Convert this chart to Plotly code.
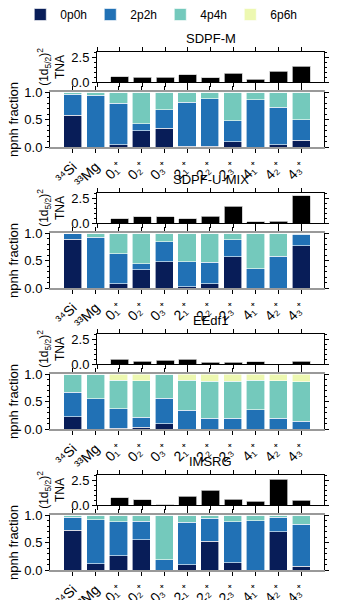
import plotly.graph_objects as go

# x categories (states)
labels = ["³⁴Si", "³³Mg", "0₁⁺", "0₂⁺", "0₃⁺", "2₁⁺", "2₂⁺", "2₃⁺", "4₁⁺", "4₂⁺", "4₃⁺"]
models = ["SDPF-M", "SDPF-U-MIX", "EEdf1", "IMSRG"]
components = ["0p0h", "2p2h", "4p4h", "6p6h"]
colors = ["#081d58", "#2171b5", "#74c9bc", "#edf8b1"]

# (1d5/2)^2 TNA
tna_sdpfm = [None, None, 0.53, 0.47, 0.47, 0.73, 0.43, 0.90, 0.30, 1.07, 1.58]
tna_sdpfu = [None, None, 0.42, 0.63, 0.63, 0.45, 0.69, 1.67, 0.14, 0.20, 2.75]
tna_eedf1 = [None, None, 0.50, 0.30, 0.37, 0.47, 0.20, 0.20, 0.23, 0.00, 0.30]
tna_imsrg = [None, None, 0.73, 0.53, 0.03, 0.87, 1.47, 0.60, 0.37, 2.57, 0.47]

# npnh fractions
sdpfm_0p0h = [0.58, 0.00, 0.04, 0.30, 0.34, 0.01, 0.01, 0.10, 0.00, 0.04, 0.12]
sdpfm_2p2h = [0.38, 0.94, 0.76, 0.12, 0.34, 0.80, 0.87, 0.38, 0.86, 0.68, 0.38]
sdpfm_4p4h = [0.04, 0.06, 0.20, 0.58, 0.32, 0.19, 0.12, 0.52, 0.14, 0.28, 0.50]
sdpfm_6p6h = [0.00] * 11

sdpfu_0p0h = [0.89, 0.00, 0.08, 0.33, 0.48, 0.02, 0.08, 0.57, 0.00, 0.00, 0.77]
sdpfu_2p2h = [0.11, 0.92, 0.54, 0.11, 0.36, 0.46, 0.39, 0.31, 0.35, 0.58, 0.21]
sdpfu_4p4h = [0.00, 0.08, 0.38, 0.56, 0.16, 0.52, 0.53, 0.12, 0.65, 0.42, 0.02]
sdpfu_6p6h = [0.00] * 11

eedf1_0p0h = [0.22, 0.00, 0.01, 0.03, 0.10, 0.00, 0.00, 0.00, 0.00, 0.00, 0.00]
eedf1_2p2h = [0.45, 0.55, 0.36, 0.18, 0.46, 0.34, 0.20, 0.20, 0.35, 0.20, 0.14]
eedf1_4p4h = [0.33, 0.45, 0.52, 0.67, 0.44, 0.55, 0.67, 0.67, 0.54, 0.68, 0.72]
eedf1_6p6h = [0.00, 0.00, 0.11, 0.12, 0.00, 0.11, 0.13, 0.13, 0.11, 0.12, 0.14]

imsrg_0p0h = [0.72, 0.11, 0.26, 0.55, 0.00, 0.10, 0.52, 0.13, 0.00, 0.70, 0.07]
imsrg_2p2h = [0.24, 0.80, 0.62, 0.34, 0.19, 0.77, 0.42, 0.75, 0.90, 0.26, 0.76]
imsrg_4p4h = [0.04, 0.09, 0.12, 0.11, 0.81, 0.13, 0.06, 0.12, 0.10, 0.04, 0.17]
imsrg_6p6h = [0.00] * 11

tna = [tna_sdpfm, tna_sdpfu, tna_eedf1, tna_imsrg]
fractions = [
    [sdpfm_0p0h, sdpfm_2p2h, sdpfm_4p4h, sdpfm_6p6h],
    [sdpfu_0p0h, sdpfu_2p2h, sdpfu_4p4h, sdpfu_6p6h],
    [eedf1_0p0h, eedf1_2p2h, eedf1_4p4h, eedf1_6p6h],
    [imsrg_0p0h, imsrg_2p2h, imsrg_4p4h, imsrg_6p6h],
]

W, H = 338, 600
FONT = "Liberation Sans"


def xd(a, b):
    return [a / W, b / W]


def yd(top, bottom):
    return [1 - bottom / H, 1 - top / H]


fig = go.Figure()
layout = {}
annotations = []

for k, model in enumerate(models):
    off = 141 * k
    na, nb = 2 * k + 1, 2 * k + 2
    xa, ya = f"x{na}", f"y{na}"
    xb, yb = f"x{nb}", f"y{nb}"

    fig.add_trace(go.Bar(x=labels, y=tna[k], xaxis=xa, yaxis=ya, width=0.8,
                         marker=dict(color="black", line=dict(color="#cccccc", width=0.8)),
                         showlegend=False))
    for comp, col, vals in zip(components, colors, fractions[k]):
        fig.add_trace(go.Bar(x=labels, y=vals, xaxis=xb, yaxis=yb, width=0.8, name=comp,
                             marker=dict(color=col, line=dict(color="white", width=0.6)),
                             showlegend=(k == 0)))

    common_x = dict(type="category", categoryorder="array", categoryarray=labels,
                    ticks="outside", ticklen=4, tickcolor="black", showgrid=False,
                    zeroline=False, automargin=False)
    layout[f"xaxis{na}"] = dict(common_x, domain=xd(97, 324), anchor=ya, range=[1, 11],
                                showticklabels=False, showline=True, linecolor="black",
                                linewidth=1, mirror="ticks")
    layout[f"yaxis{na}"] = dict(domain=yd(52 + off, 82 + off), anchor=xa, range=[0, 3],
                                tickvals=[0, 2.5], tickformat=".1f", ticks="outside",
                                ticklen=4, tickcolor="black", showline=True,
                                linecolor="black", linewidth=1, mirror="ticks",
                                showgrid=False, zeroline=False, automargin=False,
                                tickfont=dict(size=13),
                                minor=dict(dtick=0.5, ticks="outside", ticklen=2,
                                           tickcolor="black"),
                                title=dict(text="(1d<sub>5/2</sub>)<sup>2</sup><br>TNA",
                                           font=dict(size=12), standoff=4))
    layout[f"xaxis{nb}"] = dict(common_x, domain=xd(50, 324), anchor=yb, range=[-1, 11],
                                tickangle=-45, tickfont=dict(size=14),
                                showline=True, linecolor="#999999", linewidth=2,
                                mirror="ticks")
    layout[f"yaxis{nb}"] = dict(domain=yd(92 + off, 147 + off), anchor=xb, range=[0, 1],
                                tickvals=[0, 0.5, 1.0], tickformat=".1f", ticks="outside",
                                ticklen=4, tickcolor="black", showline=True,
                                linecolor="black", linewidth=1, mirror="ticks",
                                showgrid=False, zeroline=False, automargin=False,
                                tickfont=dict(size=13),
                                minor=dict(dtick=0.1, ticks="outside", ticklen=2,
                                           tickcolor="black"),
                                title=dict(text="npnh fraction", font=dict(size=13),
                                           standoff=2))
    annotations.append(dict(text=model, xref="paper", yref="paper",
                            x=(97 + 324) / 2 / W, y=1 - (38 + off) / H,
                            xanchor="center", yanchor="middle", showarrow=False,
                            font=dict(size=13)))

fig.update_layout(
    width=W, height=H,
    margin=dict(l=0, r=0, t=0, b=0),
    barmode="stack",
    plot_bgcolor="white", paper_bgcolor="white",
    font=dict(family=FONT, size=12, color="black"),
    annotations=annotations,
    legend=dict(orientation="h", x=0.06, xanchor="left", y=1.0, yanchor="top",
                entrywidth=25, entrywidthmode="pixels", font=dict(size=12),
                itemwidth=30, tracegroupgap=0,
                bgcolor="rgba(0,0,0,0)", traceorder="normal"),
    **layout,
)

# drop the browser's default 8px body margin so the figure sits at the page corner
fig.write_html("out.html", config={"displayModeBar": False},
               post_script="document.body.style.margin = '0px';")
